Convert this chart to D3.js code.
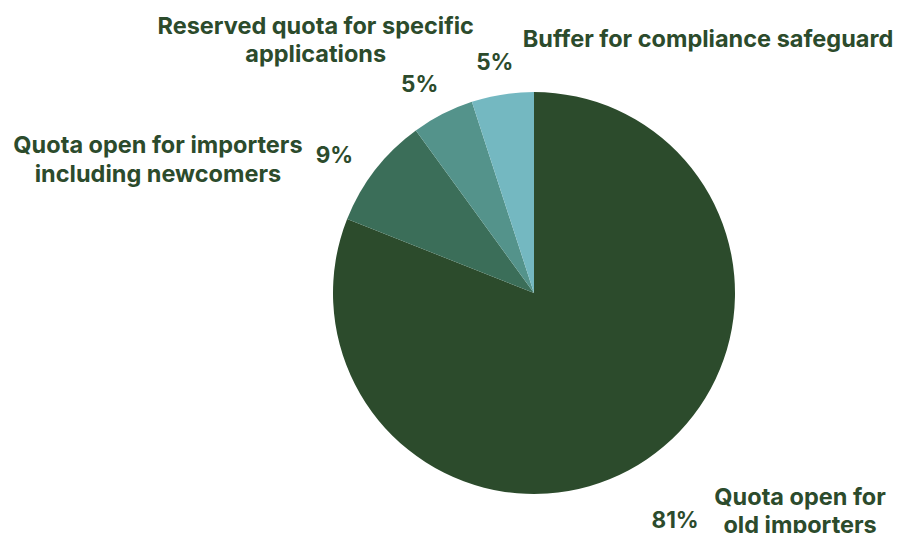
<!DOCTYPE html>
<html>
<head>
<meta charset="utf-8">
<style>
    body { margin: 0; background: #fff; }
    svg { display: block; }
    .label { font-family: Inter, sans-serif; font-weight: 700; font-size: 23.5px; fill: #2c4b2c; }
    .pct { font-family: Inter, sans-serif; font-weight: 700; font-size: 22.5px; fill: #2c4b2c; }
</style>
</head>
<body>
<svg width="898" height="533"></svg>
<script src="https://d3js.org/d3.v7.min.js"></script>
<script>
    // data
    let categories = [
        ["Quota open for", "old importers"],
        ["Quota open for importers", "including newcomers"],
        ["Reserved quota for specific", "applications"],
        ["Buffer for compliance safeguard"]
    ]
    let values = [81, 9, 5, 5]
    let colors = ["#2c4b2c", "#3b6e59", "#54938b", "#74b8c1"]

    // label layout: radius / angle nudge (deg) of the % label, offset of the category text
    let pctRadius = [267, 243, 238, 235]
    let pctNudge = [2.3, -3, -1.7, -0.6]
    let catOffset = [
        { dx: 125, dy: -14.5, lh: 28, anchor: "middle" },
        { dx: -176.5, dy: -1.5, lh: 29, anchor: "middle" },
        { dx: -104, dy: -50.5, lh: 28, anchor: "middle" },
        { dx: 28, dy: -14.5, lh: 28, anchor: "start" }
    ]

    let cx = 534, cy = 293, radius = 201

    let svg = d3.select("svg")
    let g = svg.append("g").attr("transform", `translate(${cx},${cy})`)

    let pie = d3.pie().sort(null).value(d => d)
    let arcs = pie(values)

    let arc = d3.arc().innerRadius(0).outerRadius(radius)

    g.selectAll("path")
        .data(arcs)
        .join("path")
        .attr("fill", (d, i) => colors[i])
        .attr("d", arc)

    // cap-middle point of each % label
    let pos = arcs.map((d, i) => {
        let a = (d.startAngle + d.endAngle) / 2 + pctNudge[i] * Math.PI / 180
        return [Math.sin(a) * pctRadius[i], -Math.cos(a) * pctRadius[i]]
    })

    g.selectAll(".pct")
        .data(arcs)
        .join("text")
        .attr("class", "pct")
        .attr("x", (d, i) => pos[i][0])
        .attr("y", (d, i) => pos[i][1] + 8.2)
        .attr("text-anchor", "middle")
        .text(d => d.data + "%")

    categories.forEach((lines, i) => {
        let t = g.append("text")
            .attr("class", "label")
            .attr("text-anchor", catOffset[i].anchor)
        lines.forEach((line, j) => {
            t.append("tspan")
                .attr("x", pos[i][0] + catOffset[i].dx)
                .attr("y", pos[i][1] + catOffset[i].dy + j * catOffset[i].lh)
                .text(line)
        })
    })
</script>
</body>
</html>
